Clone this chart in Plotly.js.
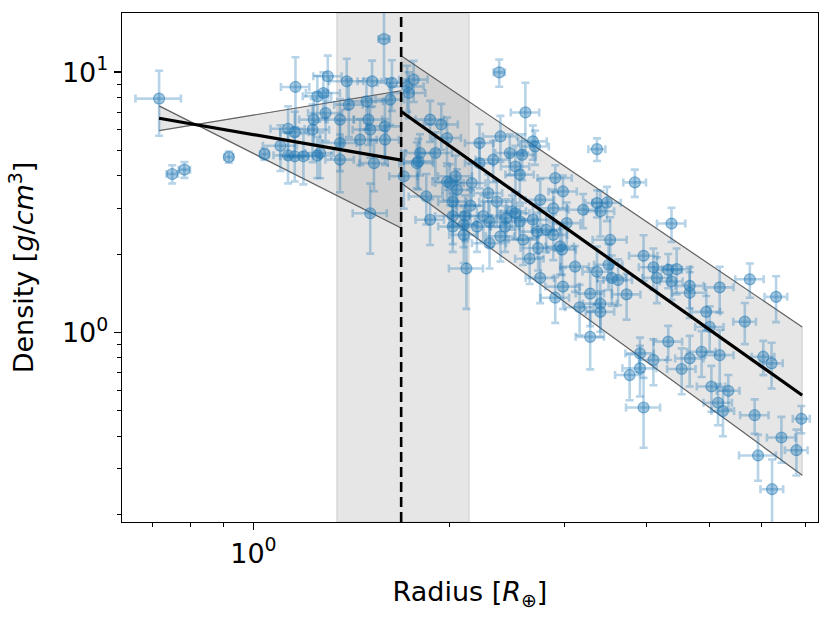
<!DOCTYPE html>
<html>
<head>
<meta charset="utf-8">
<script src="https://cdn.plot.ly/plotly-3.0.1.min.js"></script>
<style>
  html, body { margin: 0; padding: 0; background: #fff; }
  #chart { width: 830px; height: 624px; }
</style>
</head>
<body>
<div id="chart"></div>
<script>
// planet radius [R_earth] and bulk density [g/cm^3]
var radius = [
  0.717, 0.751, 0.784, 0.917, 1.04, 1.16, 1.13, 1.157, 1.10, 1.13,
  1.157, 1.193, 1.237, 1.232, 1.253, 1.253, 1.585, 1.30, 1.39, 1.52,
  1.63, 1.28, 1.76, 1.72, 1.40, 1.49, 1.62, 1.29, 1.50, 1.59,
  1.51, 1.265, 1.357, 1.357, 1.457, 1.591, 1.53, 1.51, 1.865, 1.94,
  1.98, 1.80, 1.90, 1.79, 1.70, 2.04, 2.00, 2.05, 1.84, 2.02,
  1.865, 2.02, 2.02, 2.38, 2.61, 3.36, 1.73, 2.22, 2.39, 2.68,
  2.47, 2.58, 1.78, 1.98, 2.16, 2.22, 2.33, 2.52, 2.56, 2.90,
  2.98, 2.29, 2.36, 2.11, 2.10, 2.25, 2.44, 2.52, 2.68, 2.88,
  3.20, 3.36, 2.39, 2.72, 2.88, 2.95, 2.30, 3.84, 4.37, 3.40,
  3.02, 3.52, 3.96, 4.10, 4.32, 4.15, 4.37, 3.11, 3.36, 3.50,
  3.54, 3.62, 3.73, 3.28, 3.40, 3.40, 3.16, 2.90, 2.98, 2.75,
  2.65, 2.73, 2.97, 2.56, 2.30, 2.49, 3.28, 4.32, 3.91, 3.77,
  4.10, 4.45, 4.66, 4.66, 5.18, 5.76, 6.32, 4.94, 5.66, 5.00,
  4.66, 4.86, 5.18, 3.91, 4.53, 6.04, 6.22, 5.03, 5.34, 3.96,
  5.15, 5.24, 5.86, 6.91, 6.44, 6.79, 5.93, 6.23, 2.10, 2.12,
  2.70, 3.48, 2.43, 2.59, 2.81, 2.20, 2.75, 2.15, 1.357
];
var density = [
  7.91, 4.06, 4.22, 4.72, 4.84, 8.77, 6.06, 5.87, 5.21, 4.79,
  4.75, 4.75, 6.57, 6.01, 8.07, 4.78, 13.4, 9.64, 9.22, 9.22,
  9.10, 8.31, 9.36, 8.81, 7.50, 7.72, 7.84, 6.96, 6.57, 6.19,
  6.01, 4.89, 5.34, 4.61, 5.50, 5.50, 4.47, 2.87, 6.57, 6.29,
  5.58, 4.89, 4.89, 4.54, 3.98, 3.98, 3.75, 3.53, 3.33, 3.18,
  2.71, 2.80, 2.55, 9.98, 7.00, 5.06, 8.31, 5.34, 5.66, 5.42,
  4.89, 4.81, 4.47, 3.79, 3.75, 4.47, 4.61, 4.34, 4.04, 3.92,
  3.48, 3.43, 3.18, 2.80, 2.37, 2.80, 2.75, 2.87, 2.71, 3.00,
  2.96, 3.14, 2.34, 2.44, 2.37, 2.14, 2.20, 3.77, 2.62, 2.92,
  2.63, 2.27, 1.97, 1.78, 1.74, 1.62, 1.57, 1.79, 1.71, 1.82,
  1.62, 1.59, 1.40, 1.41, 1.29, 1.20, 1.25, 1.36, 1.50, 1.62,
  1.92, 2.11, 2.08, 2.67, 2.66, 2.92, 0.962, 0.922, 0.831, 0.686,
  0.784, 1.75, 1.51, 1.42, 1.49, 1.60, 1.37, 1.20, 1.10, 1.05,
  0.795, 0.843, 0.818, 0.728, 0.724, 0.807, 0.761, 0.620, 0.597, 0.515,
  0.537, 0.499, 0.481, 0.466, 0.395, 0.353, 0.337, 0.250, 2.59, 1.76,
  5.18, 3.15, 2.55, 2.27, 2.48, 2.55, 3.23, 3.07, 6.57
];
// relative 1-sigma uncertainties
var radiusErrFrac = [
  0.08, 0.02, 0.02, 0.015, 0.015, 0.05, 0.06, 0.05, 0.06, 0.05,
  0.05, 0.06, 0.05, 0.06, 0.05, 0.05, 0.02, 0.05, 0.06, 0.05,
  0.05, 0.06, 0.05, 0.06, 0.05, 0.06, 0.05, 0.06, 0.05, 0.06,
  0.06, 0.05, 0.06, 0.05, 0.06, 0.05, 0.05, 0.06, 0.05, 0.06,
  0.05, 0.05, 0.06, 0.05, 0.05, 0.06, 0.05, 0.05, 0.06, 0.05,
  0.05, 0.06, 0.05, 0.02, 0.05, 0.03, 0.06, 0.05, 0.06, 0.05,
  0.05, 0.05, 0.06, 0.05, 0.05, 0.05, 0.06, 0.05, 0.05, 0.06,
  0.05, 0.05, 0.06, 0.05, 0.05, 0.06, 0.05, 0.05, 0.06, 0.05,
  0.05, 0.04, 0.05, 0.06, 0.05, 0.05, 0.06, 0.04, 0.05, 0.05,
  0.05, 0.06, 0.05, 0.05, 0.05, 0.05, 0.04, 0.05, 0.05, 0.05,
  0.05, 0.05, 0.05, 0.05, 0.06, 0.05, 0.05, 0.05, 0.06, 0.05,
  0.05, 0.06, 0.05, 0.05, 0.05, 0.05, 0.05, 0.05, 0.05, 0.05,
  0.05, 0.05, 0.05, 0.06, 0.05, 0.05, 0.04, 0.05, 0.04, 0.05,
  0.05, 0.05, 0.05, 0.06, 0.05, 0.04, 0.04, 0.05, 0.04, 0.06,
  0.05, 0.04, 0.05, 0.03, 0.05, 0.04, 0.065, 0.04, 0.05, 0.06,
  0.05, 0.05, 0.05, 0.05, 0.05, 0.05, 0.05, 0.05, 0.05
];
var densityErrFrac = [
  0.28, 0.08, 0.07, 0.05, 0.05, 0.3, 0.22, 0.2, 0.2, 0.22,
  0.2, 0.22, 0.2, 0.25, 0.2, 0.18, 0.3, 0.2, 0.22, 0.2,
  0.22, 0.2, 0.18, 0.2, 0.25, 0.22, 0.2, 0.22, 0.2, 0.25,
  0.22, 0.2, 0.22, 0.25, 0.2, 0.2, 0.22, 0.3, 0.18, 0.2,
  0.2, 0.18, 0.2, 0.22, 0.25, 0.2, 0.18, 0.2, 0.22, 0.2,
  0.2, 0.22, 0.2, 0.12, 0.3, 0.1, 0.2, 0.18, 0.2, 0.15,
  0.18, 0.2, 0.2, 0.15, 0.18, 0.2, 0.18, 0.2, 0.22, 0.12,
  0.15, 0.18, 0.2, 0.2, 0.22, 0.2, 0.18, 0.2, 0.15, 0.18,
  0.15, 0.12, 0.2, 0.18, 0.2, 0.22, 0.2, 0.12, 0.15, 0.2,
  0.2, 0.22, 0.2, 0.18, 0.15, 0.2, 0.15, 0.2, 0.25, 0.2,
  0.22, 0.2, 0.2, 0.25, 0.22, 0.2, 0.22, 0.2, 0.18, 0.2,
  0.2, 0.18, 0.2, 0.15, 0.2, 0.15, 0.25, 0.15, 0.15, 0.2,
  0.2, 0.2, 0.18, 0.2, 0.2, 0.15, 0.2, 0.15, 0.18, 0.2,
  0.22, 0.2, 0.25, 0.22, 0.2, 0.15, 0.2, 0.2, 0.15, 0.3,
  0.18, 0.2, 0.15, 0.12, 0.2, 0.2, 0.2, 0.3, 0.18, 0.3,
  0.15, 0.15, 0.2, 0.2, 0.18, 0.2, 0.2, 0.15, 0.2
];

// broken power-law fit
var breakRadius = 1.684;
var breakBand = [1.342, 2.14];          // uncertainty on the break
var leftFitR = [0.717, 1.684];
var leftFitD = [6.65, 4.59];
var leftBoundA = [7.42, 2.52];          // crossing envelope lines
var leftBoundB = [5.96, 8.48];
var rightFitR = [1.684, 6.93];
var rightFitD = [7.06, 0.574];
var rightUpper = [11.55, 1.05];
var rightLower = [3.75, 0.283];

var xMinorTicks = [0.7, 0.8, 0.9, 2, 3, 4, 5, 6, 7];
var yMinorTicks = [0.2, 0.3, 0.4, 0.5, 0.6, 0.7, 0.8, 0.9, 2, 3, 4, 5, 6, 7, 8, 9];

var FONT = 'DejaVu Sans, Arial, sans-serif';
var BLUE = 'rgba(31,119,180,';

var radiusErr = radius.map(function (r, i) { return r * radiusErrFrac[i]; });
var densityErr = density.map(function (d, i) { return d * densityErrFrac[i]; });

var bandFill = 'rgba(128,128,128,0.2)';
var edge = 'rgba(60,60,60,0.75)';

var leftEnvelope = {
  x: [leftFitR[0], leftFitR[1], leftFitR[1], leftFitR[0], leftFitR[0]],
  y: [leftBoundA[0], leftBoundA[1], leftBoundB[1], leftBoundB[0], leftBoundA[0]],
  mode: 'lines', fill: 'toself', fillcolor: bandFill,
  line: { color: 'rgba(0,0,0,0.15)', width: 1 }, hoverinfo: 'skip'
};
var rightEnvelope = {
  x: [rightFitR[0], rightFitR[1], rightFitR[1], rightFitR[0], rightFitR[0]],
  y: [rightUpper[0], rightUpper[1], rightLower[1], rightLower[0], rightUpper[0]],
  mode: 'lines', fill: 'toself', fillcolor: bandFill,
  line: { color: 'rgba(0,0,0,0.15)', width: 1 }, hoverinfo: 'skip'
};
function edgeLine(xs, ys) {
  return { x: xs, y: ys, mode: 'lines', line: { color: edge, width: 1.2 }, hoverinfo: 'skip' };
}

var points = {
  x: radius, y: density,
  mode: 'markers', type: 'scatter',
  marker: { size: 11, color: BLUE + '0.4)', line: { color: BLUE + '0.5)', width: 1.2 } },
  error_x: { type: 'data', array: radiusErr, color: BLUE + '0.32)', thickness: 2.6, width: 4 },
  error_y: { type: 'data', array: densityErr, color: BLUE + '0.32)', thickness: 2.6, width: 4 }
};

var leftFit = { x: leftFitR, y: leftFitD, mode: 'lines', line: { color: 'black', width: 3.2 } };
var rightFit = { x: rightFitR, y: rightFitD, mode: 'lines', line: { color: 'black', width: 3.2 } };

var data = [
  leftEnvelope, rightEnvelope,
  edgeLine(leftFitR, leftBoundA), edgeLine(leftFitR, leftBoundB),
  edgeLine(rightFitR, rightUpper), edgeLine(rightFitR, rightLower),
  points, leftFit, rightFit
];

var axisCommon = {
  type: 'log',
  showgrid: false, zeroline: false,
  showline: true, linecolor: 'black', linewidth: 1.3, mirror: true,
  ticks: 'outside', ticklen: 7, tickwidth: 1.3, tickcolor: 'black',
  tickmode: 'array',
  tickfont: { family: FONT, size: 27, color: 'black' }
};

var layout = {
  width: 830, height: 624,
  paper_bgcolor: 'white', plot_bgcolor: 'white',
  showlegend: false,
  margin: { l: 122, r: 12, t: 13, b: 102 },
  font: { family: FONT, color: 'black' },
  xaxis: Object.assign({}, axisCommon, {
    range: [-0.2013, 0.8649],
    tickvals: [1], ticktext: ['10<sup>0</sup>'],
    minor: { tickmode: 'array', tickvals: xMinorTicks, ticks: 'outside', ticklen: 4, tickwidth: 1, tickcolor: 'black', showgrid: false },
    title: { text: 'Radius [<i>R</i><sub>⊕</sub>]', font: { family: FONT, size: 27, color: 'black' }, standoff: 14 }
  }),
  yaxis: Object.assign({}, axisCommon, {
    range: [-0.728, 1.227],
    tickvals: [1, 10], ticktext: ['10<sup>0</sup>', '10<sup>1</sup>'],
    minor: { tickmode: 'array', tickvals: yMinorTicks, ticks: 'outside', ticklen: 4, tickwidth: 1, tickcolor: 'black', showgrid: false },
    title: { text: 'Density [<i>g</i>/<i>cm</i><sup>3</sup>]', font: { family: FONT, size: 27, color: 'black' }, standoff: 20 }
  }),
  shapes: [
    { type: 'rect', xref: 'x', yref: 'paper', x0: breakBand[0], x1: breakBand[1], y0: 0, y1: 1,
      fillcolor: 'rgba(128,128,128,0.2)', line: { color: 'rgba(128,128,128,0.25)', width: 1.2 }, layer: 'below' },
    { type: 'line', xref: 'x', yref: 'paper', x0: breakRadius, x1: breakRadius, y0: 0, y1: 1,
      line: { color: 'black', width: 2.6, dash: '10px,5px' }, layer: 'above' }
  ]
};

Plotly.newPlot('chart', data, layout, { staticPlot: true, displayModeBar: false });
</script>
</body>
</html>
